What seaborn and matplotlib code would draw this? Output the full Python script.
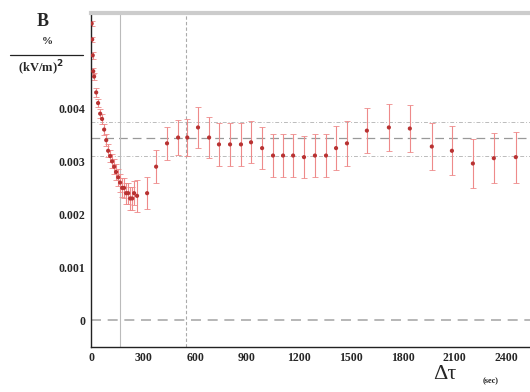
import matplotlib
matplotlib.use("Agg")
import matplotlib.pyplot as plt
import numpy as np
import pandas as pd
import seaborn as sns
from matplotlib.lines import Line2D
from matplotlib.ticker import MultipleLocator, FuncFormatter

# delay (s), effect (%/(kV/m)^2), error
early_t = [3, 6, 9, 12, 17, 29, 40, 52, 63, 75, 87, 98, 110, 121, 133,
           144, 156, 167, 179, 190, 202, 214, 225, 237, 248]
early_v = [0.0056, 0.0053, 0.0050, 0.0047, 0.0046, 0.0043, 0.0041, 0.0039,
           0.0038, 0.0036, 0.0034, 0.0032, 0.0031, 0.0030, 0.0029, 0.0028,
           0.0027, 0.0026, 0.0025, 0.0025, 0.0024, 0.0024, 0.0023, 0.0023,
           0.0024]
early_e = [0.00005, 0.00005, 0.00006, 0.00006, 0.00007, 0.00008, 0.00008,
           0.00009, 0.0001, 0.0001, 0.00011, 0.00012, 0.00012, 0.00013,
           0.00014, 0.00015, 0.00016, 0.00017, 0.00018, 0.00019, 0.0002,
           0.0002, 0.00021, 0.00022, 0.00023]

late_t = [265, 323, 375, 438, 502, 555, 617, 681, 738, 802, 865, 923, 987,
          1050, 1108, 1166, 1229, 1292, 1356, 1414, 1477,
          1592, 1719, 1840, 1967, 2083, 2204, 2325, 2452]
late_v = [0.00235, 0.00240, 0.00290, 0.00334, 0.00345, 0.00345, 0.00364,
          0.00345, 0.00332, 0.00332, 0.00332, 0.00336, 0.00325, 0.00311,
          0.00311, 0.00311, 0.00308, 0.00311, 0.00311, 0.00325, 0.00334,
          0.00358, 0.00364, 0.00362, 0.00328, 0.00320, 0.00296, 0.00306,
          0.00308]
late_e = [0.0003, 0.0003, 0.00031, 0.00031, 0.00033, 0.00035, 0.00038,
          0.00038, 0.0004, 0.0004, 0.0004, 0.0004, 0.0004, 0.0004, 0.0004,
          0.0004, 0.0004, 0.0004, 0.0004, 0.00041, 0.00042,
          0.00042, 0.00044, 0.00044, 0.00045, 0.00046, 0.00047, 0.00047,
          0.00048]

x_ticks = [0, 300, 600, 900, 1200, 1500, 1800, 2100, 2400]
y_ticks = [0, 0.001, 0.002, 0.003, 0.004]

mean_level = 0.00345
band = [0.0031, 0.00375]
v_solid = 167
v_dash = 546

df = pd.DataFrame({"t": early_t + late_t, "v": early_v + late_v,
                   "err": early_e + late_e})

sns.set_style("white")
plt.rcParams["font.family"] = ["Liberation Serif", "DejaVu Serif"]

fig = plt.figure(figsize=(5.3, 3.92), dpi=100)
ax = fig.add_axes([0.172, 0.115, 0.83, 0.852])

# reference lines
ax.axhline(0, color="#aaaaaa", lw=1.2, ls=(0, (6, 4)), zorder=1)
ax.axhline(mean_level, color="#999999", lw=0.9, ls=(0, (7, 4)), zorder=1)
for b in band:
    ax.axhline(b, color="#bbbbbb", lw=0.7, ls=(0, (4, 2, 1, 2)), zorder=1)
ax.axvline(v_solid, color="#bbbbbb", lw=0.8, zorder=1)
ax.axvline(v_dash, color="#aaaaaa", lw=0.8, ls=(0, (3, 2)), zorder=1)

ax.errorbar(df["t"], df["v"], yerr=df["err"], fmt="none", ecolor="#ee8a8a",
            elinewidth=0.8, capsize=2, capthick=0.6, zorder=2)
sns.scatterplot(data=df, x="t", y="v", ax=ax, color="#b83232", s=9,
                edgecolor="none", zorder=3, legend=False)

ax.set_xlim(0, 2540)
ax.set_ylim(-0.0005, 0.0058)
ax.set_xlabel("")
ax.set_ylabel("")

ax.set_xticks(x_ticks)
ax.set_yticks(y_ticks)
ax.xaxis.set_minor_locator(MultipleLocator(60))
ax.yaxis.set_minor_locator(MultipleLocator(0.0002))
ax.yaxis.set_major_formatter(FuncFormatter(lambda v, p: "0" if abs(v) < 1e-9 else f"{v:.3f}"))
ax.tick_params(axis="both", which="both", direction="inout", labelsize=8.5,
               color="#222222", width=0.8)
ax.tick_params(which="major", length=4, pad=2)
ax.tick_params(which="minor", length=3)
for lab in ax.get_xticklabels() + ax.get_yticklabels():
    lab.set_fontweight("bold")

ax.spines["right"].set_visible(False)
ax.spines["top"].set_color("#cccccc")
ax.spines["top"].set_linewidth(3)
ax.spines["left"].set_color("#222222")
ax.spines["bottom"].set_color("#222222")
ax.spines["left"].set_linewidth(1.0)
ax.spines["bottom"].set_linewidth(1.0)

# panel letter and unit fraction
fig.text(0.08, 0.945, "B", fontsize=13, fontweight="bold", ha="center", va="center")
fig.text(0.09, 0.893, "%", fontsize=8, fontweight="bold", ha="center", va="center")
fig.add_artist(Line2D([0.019, 0.157], [0.86, 0.86], color="#222222", lw=0.9))
fig.text(0.078, 0.826, "(kV/m)$^\\mathbf{2}$", fontsize=9, fontweight="bold",
         ha="center", va="center")

fig.text(0.84, 0.045, "Δτ", fontsize=16, ha="center", va="center")
fig.text(0.925, 0.028, "(sec)", fontsize=6, fontweight="bold", ha="center", va="center")

fig.savefig("out.png", dpi=100)
